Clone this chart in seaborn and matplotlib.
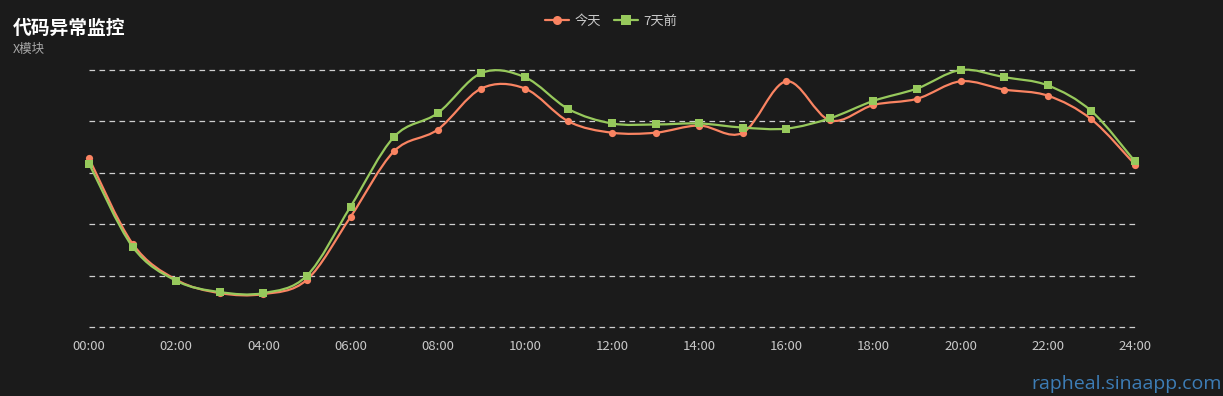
import matplotlib
matplotlib.use("Agg")
import matplotlib.pyplot as plt
from matplotlib.path import Path
from matplotlib.patches import PathPatch
from matplotlib.lines import Line2D
import numpy as np
import pandas as pd
import seaborn as sns

# hourly values
hours = list(range(25))
today = [164, 81, 46, 33, 32, 46, 107, 171, 192, 232, 232, 200, 189, 189, 196,
         189, 239, 201, 216, 222, 239, 231, 225, 202, 158]
week_ago = [159, 78, 45, 34, 33, 50, 117, 185, 208, 247, 243, 212, 198, 197, 198,
            194, 193, 203, 220, 232, 250, 243, 235, 210, 161]
tick_hours = list(range(0, 25, 2))
tick_labels = [f"{h:02d}:00" for h in tick_hours]
series_names = ["今天", "7天前"]

BG = "#1b1b1b"
COLORS = {"今天": "#fa8462", "7天前": "#97c95c"}
MARKERS = {"今天": "o", "7天前": "s"}

sns.set_theme(style="dark", rc={
    "figure.facecolor": BG,
    "axes.facecolor": BG,
    "savefig.facecolor": BG,
})
plt.rcParams["font.family"] = ["Noto Sans CJK SC", "DejaVu Sans"]

df = pd.DataFrame({
    "hour": hours * 2,
    "value": today + week_ago,
    "series": [series_names[0]] * len(hours) + [series_names[1]] * len(hours),
})


def smooth_path(xs, ys, s=1 / 6):
    # catmull-rom style bezier curve through the points
    pts = np.column_stack([xs, ys]).astype(float)
    verts = [pts[0]]
    codes = [Path.MOVETO]
    n = len(pts)
    for i in range(n - 1):
        p0 = pts[max(i - 1, 0)]
        p1 = pts[i]
        p2 = pts[i + 1]
        p3 = pts[min(i + 2, n - 1)]
        verts += [p1 + (p2 - p0) * s, p2 - (p3 - p1) * s, p2]
        codes += [Path.CURVE4] * 3
    return Path(verts, codes)


fig = plt.figure(figsize=(12.23, 3.96), dpi=100)
ax = fig.add_axes([89 / 1223, 69 / 396, (1135 - 89) / 1223, (327 - 70) / 396])

for name in series_names:
    sub = df[df["series"] == name]
    patch = PathPatch(smooth_path(sub["hour"], sub["value"]), facecolor="none",
                      edgecolor=COLORS[name], lw=1.6, clip_on=False, zorder=3)
    ax.add_patch(patch)
    sns.lineplot(data=sub, x="hour", y="value", ax=ax, linestyle="none",
                 marker=MARKERS[name], markersize=5.2,
                 markeredgewidth=0, color=COLORS[name], clip_on=False,
                 zorder=4, legend=False)

ax.set_xlim(0, 24)
ax.set_ylim(0, 250)
ax.set_xticks(tick_hours)
ax.set_xticklabels(tick_labels)
ax.set_yticks([0, 50, 100, 150, 200, 250])
ax.set_yticklabels([])
ax.tick_params(axis="x", length=0, pad=9, labelsize=9.5, labelcolor="#c8c8c8")
ax.tick_params(axis="y", length=0)
ax.set_xlabel("")
ax.set_ylabel("")
ax.grid(False)
for v in [0, 50, 100, 150, 200, 250]:
    ax.axhline(v, color="#cfcfcf", lw=0.9, ls=(0, (4.5, 3.5)), zorder=1, clip_on=False)
for sp in ax.spines.values():
    sp.set_visible(False)

# title / subtitle
fig.text(13 / 1223, 1 - 28 / 396, "代码异常监控", color="white", fontsize=13.5,
         fontweight="bold", va="center", ha="left")
fig.text(13 / 1223, 1 - 49 / 396, "X模块", color="#a8a8a8", fontsize=9,
         va="center", ha="left")

handles = [Line2D([0], [0], color=COLORS[n], lw=1.6, marker=MARKERS[n],
                  markersize=6.5, markeredgewidth=0) for n in series_names]
leg = fig.legend(handles, series_names, loc="center", bbox_to_anchor=(611 / 1223, 1 - 21 / 396),
                 ncol=2, frameon=False, fontsize=9.5, handlelength=1.8, handletextpad=0.4,
                 columnspacing=1.0)
for t in leg.get_texts():
    t.set_color("#c8c8c8")

fig.text(1222 / 1223, 1 - 384 / 396, "rapheal.sinaapp.com", color="#3d7db6",
         fontsize=14, ha="right", va="center", family=["Open Sans", "DejaVu Sans"])

fig.savefig("out.png", dpi=100, facecolor=BG)
